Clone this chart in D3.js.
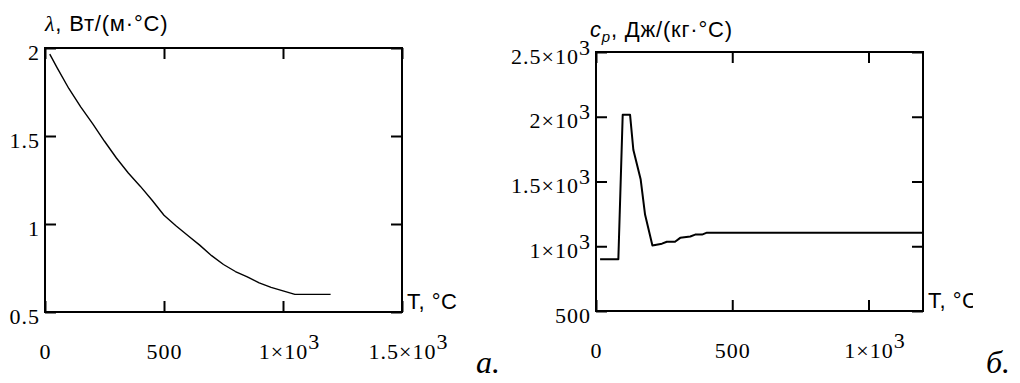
<!DOCTYPE html>
<html>
<head>
<meta charset="utf-8">
<script src="https://cdn.jsdelivr.net/npm/d3@7/dist/d3.min.js"></script>
<style>
	body { margin: 0; background: #fff; }
	svg { display: block; }
</style>
</head>
<body>
<svg id="chart"></svg>
<script>
const WIDTH = 1020;
const HEIGHT = 383;
const TICK = 11;
const SERIF = '"Liberation Serif", "Times New Roman", serif';
const SANS = '"Liberation Sans", Arial, sans-serif';

// panel a: thermal conductivity vs temperature
const lambdaT = [20, 50, 100, 150, 200, 250, 300, 350, 400, 450, 500, 550, 600, 650, 700, 750, 800, 850, 900, 950, 1000, 1050, 1100, 1150, 1200];
const lambdaValues = [1.965, 1.89, 1.77, 1.665, 1.57, 1.47, 1.375, 1.29, 1.215, 1.135, 1.05, 0.99, 0.935, 0.88, 0.82, 0.77, 0.73, 0.7, 0.665, 0.64, 0.62, 0.6, 0.6, 0.6, 0.6];
const lambdaXTicks = [0, 500, 1000, 1500];
const lambdaYTicks = [0.5, 1, 1.5, 2];

// panel b: specific heat vs temperature
const cpT = [15, 82, 98, 125, 137, 164, 180, 207, 242, 260, 290, 309, 346, 364, 389, 407, 1200];
const cpValues = [900, 900, 2015, 2015, 1745, 1515, 1245, 1005, 1020, 1035, 1035, 1065, 1075, 1090, 1090, 1105, 1105];
const cpXTicks = [0, 500, 1000];
const cpYTicks = [500, 1000, 1500, 2000, 2500];

const svg = d3.select('#chart').attr('width', WIDTH).attr('height', HEIGHT);

// mathcad style: 1500 -> "1.5×10" + superscript 3
function mantissa(v) {
	return v >= 1000 ? (v / 1000) + '×10' : String(v);
}

function drawPanel(cfg) {
	const x = d3.scaleLinear().domain(cfg.xDomain).range([cfg.left, cfg.right]);
	const y = d3.scaleLinear().domain(cfg.yDomain).range([cfg.bottom, cfg.top]);
	const g = svg.append('g');
	if (cfg.clip) {
		g.append('clipPath').attr('id', cfg.clip.id)
			.append('rect').attr('x', 0).attr('y', 0).attr('width', cfg.clip.right).attr('height', HEIGHT);
	}

	const styleAxis = (sel) => {
		sel.select('.domain').remove();
		sel.selectAll('.tick line').attr('stroke', '#000').attr('stroke-width', 2);
		sel.selectAll('text')
			.attr('font-family', SERIF).attr('font-size', 22)
			.attr('letter-spacing', 1).attr('fill', '#000');
	};

	// bottom axis with labels
	const bottomAxis = g.append('g')
		.attr('transform', `translate(0,${cfg.bottom})`)
		.call(d3.axisBottom(x).tickValues(cfg.xTicks).tickSize(-TICK).tickSizeOuter(0).tickPadding(31).tickFormat(mantissa))
		.call(styleAxis);
	bottomAxis.selectAll('.tick').each(function (v) {
		if (v < 1000) return;
		const t = d3.select(this).select('text');
		const w = t.node().getComputedTextLength();
		d3.select(this).append('text')
			.attr('x', w / 2).attr('y', 31).attr('dy', '0.71em')
			.attr('transform', 'translate(0,-10)')
			.attr('font-family', SERIF).attr('font-size', 22)
			.attr('fill', '#000')
			.attr('text-anchor', 'start')
			.text('3');
	});

	g.append('g')
		.attr('transform', `translate(0,${cfg.top})`)
		.call(d3.axisTop(x).tickValues(cfg.xTicks).tickSize(-TICK).tickSizeOuter(0).tickFormat(''))
		.call(styleAxis);

	// left axis with labels
	const leftAxis = g.append('g')
		.attr('transform', `translate(${cfg.left},0)`)
		.call(d3.axisLeft(y).tickValues(cfg.yTicks).tickSize(-TICK).tickSizeOuter(0).tickPadding(5).tickFormat(''))
		.call(styleAxis);
	leftAxis.selectAll('.tick text').each(function (v) {
		const t = d3.select(this).attr('dy', 11);
		t.append('tspan').text(mantissa(v));
		if (v >= 1000) t.append('tspan').attr('dy', -9).text('3');
	});

	g.append('g')
		.attr('transform', `translate(${cfg.right},0)`)
		.call(d3.axisRight(y).tickValues(cfg.yTicks).tickSize(-TICK).tickSizeOuter(0).tickFormat(''))
		.call(styleAxis);

	// frame
	g.append('rect')
		.attr('x', cfg.left).attr('y', cfg.top)
		.attr('width', cfg.right - cfg.left).attr('height', cfg.bottom - cfg.top)
		.attr('fill', 'none').attr('stroke', '#000').attr('stroke-width', 2);

	// data line
	const line = d3.line().x((d) => x(d[0])).y((d) => y(d[1]));
	g.append('path')
		.datum(d3.zip(cfg.xs, cfg.ys))
		.attr('d', line)
		.attr('fill', 'none')
		.attr('stroke', '#000')
		.attr('stroke-width', cfg.lineWidth)
		.attr('stroke-linejoin', 'round');

	// x axis title
	g.append('text')
		.attr('x', cfg.right + 5).attr('y', cfg.bottom - 3)
		.attr('font-family', SANS).attr('font-size', 22).attr('letter-spacing', 0.5)
		.attr('clip-path', cfg.clip ? `url(#${cfg.clip.id})` : null)
		.text('T, °C');

	// y axis title
	cfg.yTitle(g.append('text')
		.attr('x', cfg.titleX).attr('y', cfg.titleY)
		.attr('font-family', SANS).attr('font-size', 22).attr('letter-spacing', 0.8));

	// panel letter
	g.append('text')
		.attr('x', cfg.letterX).attr('y', 373)
		.attr('font-family', SERIF).attr('font-style', 'italic').attr('font-size', 32)
		.text(cfg.letter);
}

drawPanel({
	xDomain: [0, 1500], yDomain: [0.5, 2],
	left: 45, right: 402, top: 48, bottom: 312,
	xTicks: lambdaXTicks, yTicks: lambdaYTicks,
	xs: lambdaT, ys: lambdaValues, lineWidth: 1.4,
	titleX: 45, titleY: 31,
	yTitle: (t) => {
		t.append('tspan').attr('font-family', SERIF).attr('font-style', 'italic').text('λ');
		t.append('tspan').text(', Вт/(м·°С)');
	},
	letter: 'а.', letterX: 476
});

drawPanel({
	xDomain: [0, 1200], yDomain: [500, 2500],
	left: 596, right: 923, top: 52, bottom: 311,
	xTicks: cpXTicks, yTicks: cpYTicks,
	xs: cpT, ys: cpValues, lineWidth: 2,
	titleX: 590, titleY: 37,
	yTitle: (t) => {
		t.append('tspan').attr('font-style', 'italic').text('c');
		t.append('tspan').attr('font-style', 'italic').attr('font-size', 15).attr('dy', 5).text('p');
		t.append('tspan').attr('dy', -5).text(', Дж/(кг·°С)');
	},
	letter: 'б.', letterX: 986,
	clip: { id: 'clipB', right: 973 }
});
</script>
</body>
</html>
